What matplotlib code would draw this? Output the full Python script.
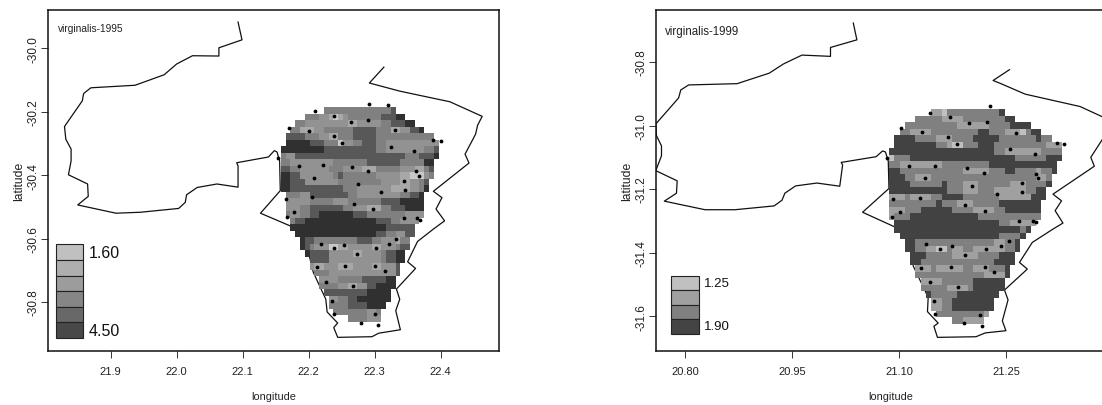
import numpy as np
import matplotlib
matplotlib.use('Agg')
import matplotlib.pyplot as plt
from matplotlib.colors import ListedColormap
from matplotlib.patches import Rectangle

plt.rcParams['font.family'] = ['Liberation Sans', 'DejaVu Sans']

# outline lon / lat, 1995 panel
lon_95 = [22.093, 22.099, 22.064, 22.064, 22.024, 22.000, 21.981, 21.937, 21.870, 21.859, 21.857, 21.830, 21.832,
          21.840, 21.840, 21.836, 21.865, 21.866, 21.850, 21.908, 21.945, 22.003, 22.013, 22.015, 22.031, 22.061,
          22.093, 22.093, 22.091, 22.139, 22.148, 22.152, 22.156, 22.157, 22.127, 22.172, 22.190, 22.207, 22.226,
          22.228, 22.244, 22.238, 22.244, 22.296, 22.306, 22.339, 22.332, 22.338, 22.333, 22.362, 22.350, 22.365,
          22.389, 22.406, 22.393, 22.402, 22.389, 22.443, 22.437, 22.453, 22.456, 22.463, 22.414, 22.339, 22.292,
          22.314]
lat_95 = [-29.918, -29.974, -29.999, -30.025, -30.024, -30.050, -30.084, -30.117, -30.125, -30.143, -30.166, -30.247,
          -30.287, -30.318, -30.355, -30.399, -30.428, -30.467, -30.494, -30.520, -30.517, -30.505, -30.486, -30.462,
          -30.439, -30.428, -30.438, -30.371, -30.361, -30.343, -30.323, -30.327, -30.355, -30.449, -30.520, -30.560,
          -30.560, -30.706, -30.791, -30.831, -30.866, -30.880, -30.911, -30.909, -30.898, -30.887, -30.827, -30.791,
          -30.759, -30.694, -30.673, -30.609, -30.570, -30.544, -30.507, -30.471, -30.451, -30.362, -30.334, -30.271,
          -30.243, -30.215, -30.169, -30.136, -30.110, -30.060]

# outline lon / lat, 1999 panel
lon_99 = [21.036, 21.041, 21.004, 21.004, 20.964, 20.938, 20.918, 20.873, 20.805, 20.794, 20.791, 20.759, 20.760,
          20.767, 20.767, 20.759, 20.789, 20.788, 20.771, 20.828, 20.870, 20.925, 20.936, 20.940, 20.955, 20.985,
          21.017, 21.021, 21.019, 21.068, 21.077, 21.081, 21.085, 21.086, 21.049, 21.094, 21.118, 21.120, 21.141,
          21.140, 21.155, 21.149, 21.154, 21.208, 21.221, 21.250, 21.245, 21.253, 21.248, 21.280, 21.269, 21.287,
          21.316, 21.330, 21.319, 21.328, 21.316, 21.374, 21.369, 21.384, 21.403, 21.384, 21.354, 21.277, 21.242,
          21.232, 21.255]
lat_99 = [-30.677, -30.730, -30.754, -30.782, -30.778, -30.806, -30.835, -30.868, -30.872, -30.888, -30.913, -30.995,
          -31.032, -31.064, -31.095, -31.142, -31.174, -31.213, -31.238, -31.265, -31.265, -31.253, -31.235, -31.213,
          -31.190, -31.181, -31.191, -31.124, -31.116, -31.098, -31.080, -31.083, -31.111, -31.198, -31.273, -31.319,
          -31.357, -31.442, -31.541, -31.586, -31.622, -31.632, -31.667, -31.665, -31.653, -31.646, -31.615, -31.549,
          -31.518, -31.452, -31.431, -31.368, -31.326, -31.307, -31.268, -31.237, -31.216, -31.128, -31.100, -31.048,
          -30.980, -30.971, -30.940, -30.901, -30.867, -30.858, -30.824]

# sample points
pts_lon_95 = [22.292, 22.320, 22.209, 22.238, 22.264, 22.290, 22.170, 22.201, 22.331, 22.238, 22.250, 22.389, 22.400,
              22.325, 22.359, 22.154, 22.186, 22.222, 22.266, 22.290, 22.363, 22.367, 22.208, 22.344, 22.275, 22.346,
              22.310, 22.166, 22.205, 22.268, 22.297, 22.178, 22.167, 22.345, 22.364, 22.368, 22.218, 22.254, 22.238,
              22.273, 22.302, 22.322, 22.333, 22.213, 22.255, 22.301, 22.316, 22.227, 22.267, 22.235, 22.238, 22.301,
              22.280, 22.305]
pts_lat_95 = [-30.176, -30.178, -30.199, -30.214, -30.233, -30.228, -30.251, -30.261, -30.259, -30.277, -30.298,
              -30.291, -30.293, -30.310, -30.323, -30.347, -30.370, -30.368, -30.373, -30.387, -30.387, -30.402,
              -30.409, -30.417, -30.429, -30.448, -30.453, -30.474, -30.470, -30.492, -30.508, -30.515, -30.533,
              -30.536, -30.536, -30.542, -30.617, -30.621, -30.630, -30.649, -30.630, -30.618, -30.600, -30.691,
              -30.687, -30.686, -30.702, -30.736, -30.749, -30.798, -30.837, -30.839, -30.865, -30.872]
pts_lon_99 = [21.228, 21.144, 21.172, 21.198, 21.224, 21.103, 21.133, 21.264, 21.169, 21.181, 21.322, 21.332, 21.256,
              21.291, 21.083, 21.114, 21.151, 21.195, 21.219, 21.292, 21.295, 21.136, 21.272, 21.202, 21.273, 21.237,
              21.091, 21.130, 21.193, 21.221, 21.101, 21.090, 21.268, 21.288, 21.292, 21.138, 21.174, 21.157, 21.192,
              21.222, 21.243, 21.255, 21.131, 21.173, 21.220, 21.233, 21.143, 21.183, 21.149, 21.151, 21.214, 21.191,
              21.216]
pts_lat_99 = [-30.939, -30.960, -30.974, -30.993, -30.990, -31.008, -31.020, -31.023, -31.037, -31.058, -31.054,
              -31.058, -31.073, -31.088, -31.103, -31.126, -31.128, -31.133, -31.149, -31.152, -31.165, -31.166,
              -31.180, -31.190, -31.210, -31.214, -31.230, -31.227, -31.251, -31.268, -31.272, -31.288, -31.300,
              -31.302, -31.304, -31.374, -31.378, -31.388, -31.407, -31.390, -31.378, -31.362, -31.448, -31.444,
              -31.444, -31.462, -31.492, -31.507, -31.554, -31.593, -31.597, -31.622, -31.630]

# grid rows, north to south: first column, then (end column, class)
rows_95 = [
    [9, (23, 4), (24, 5)],
    [5, (8, 4), (10, 3), (11, 2), (12, 1), (13, 2), (14, 3), (21, 4), (24, 5), (26, 6)],
    [3, (5, 4), (14, 3), (16, 2), (21, 3), (23, 4), (26, 5), (28, 6)],
    [2, (4, 4), (7, 2), (9, 3), (15, 4), (20, 5), (23, 4), (25, 2), (27, 3), (29, 5), (30, 6)],
    [1, (5, 5), (8, 4), (10, 3), (12, 2), (15, 4), (20, 5), (32, 4)],
    [1, (6, 6), (9, 5), (12, 4), (13, 1), (15, 3), (17, 4), (20, 5), (22, 4), (33, 3)],
    [0, (9, 6), (20, 5), (22, 4), (30, 3), (32, 4), (33, 5)],
    [0, (1, 4), (3, 3), (26, 5), (29, 4), (32, 5), (33, 6)],
    [0, (2, 4), (11, 3), (18, 4), (25, 5), (30, 4), (32, 6)],
    [0, (2, 5), (4, 4), (10, 3), (13, 4), (17, 3), (20, 2), (25, 4), (28, 3), (30, 2), (31, 4), (32, 5)],
    [0, (2, 6), (4, 5), (11, 3), (12, 4), (13, 5), (20, 4), (25, 3), (27, 2), (30, 1), (31, 3), (32, 4)],
    [0, (2, 6), (5, 5), (12, 3), (21, 4), (25, 3), (27, 2), (29, 3), (30, 4), (31, 5)],
    [0, (2, 6), (13, 5), (16, 4), (23, 3), (27, 2), (29, 3), (30, 4), (31, 6)],
    [1, (4, 4), (6, 3), (14, 5), (16, 4), (25, 3), (27, 4), (29, 5), (30, 6)],
    [1, (6, 3), (11, 4), (14, 3), (21, 4), (25, 5), (30, 6)],
    [1, (4, 3), (6, 4), (13, 5), (15, 4), (18, 3), (21, 2), (23, 4), (26, 5), (30, 6)],
    [1, (2, 4), (4, 3), (6, 4), (8, 5), (15, 6), (18, 5), (26, 4), (30, 3)],
    [2, (3, 4), (5, 5), (20, 6), (23, 5), (25, 4), (29, 3)],
    [2, (22, 6), (28, 5)],
    [3, (20, 6), (22, 5), (24, 4), (26, 3), (28, 5)],
    [4, (5, 6), (7, 5), (16, 4), (19, 5), (21, 4), (24, 3), (25, 2), (27, 4)],
    [4, (5, 6), (6, 5), (7, 4), (10, 3), (12, 1), (14, 2), (19, 3), (21, 2), (24, 3), (25, 4), (27, 5)],
    [5, (6, 6), (10, 5), (15, 3), (17, 2), (21, 3), (22, 4), (24, 5), (26, 6)],
    [6, (10, 5), (21, 3), (22, 4), (24, 5), (26, 6)],
    [6, (7, 3), (9, 2), (12, 3), (15, 2), (19, 3), (21, 2), (24, 3), (25, 5)],
    [7, (10, 4), (24, 3), (25, 5)],
    [8, (12, 3), (17, 4), (22, 5), (24, 6)],
    [8, (12, 4), (14, 3), (16, 2), (18, 3), (20, 5), (24, 6)],
    [9, (18, 5), (23, 6)],
    [10, (12, 3), (14, 4), (16, 5), (23, 6)],
    [10, (14, 4), (18, 5), (22, 6)],
    [11, (18, 4), (20, 3), (21, 4)],
    [14, (18, 4), (21, 3)],
]
rows_99 = [
    [8, (10, 2), (11, 1), (21, 3), (22, 4)],
    [5, (10, 3), (14, 2), (22, 3), (24, 4)],
    [3, (13, 3), (19, 2), (23, 3), (27, 4)],
    [2, (4, 3), (8, 2), (17, 3), (19, 4), (22, 3), (25, 2), (26, 1), (27, 3), (29, 4)],
    [1, (5, 4), (9, 3), (12, 2), (16, 3), (21, 4), (28, 3), (29, 4), (31, 3)],
    [1, (9, 4), (11, 3), (12, 2), (14, 1), (17, 3), (20, 4), (30, 3), (33, 2)],
    [0, (20, 4), (22, 3), (29, 2), (33, 3)],
    [0, (1, 1), (4, 3), (24, 4), (30, 3), (33, 4)],
    [0, (2, 3), (10, 2), (19, 3), (32, 4)],
    [0, (2, 4), (14, 3), (19, 2), (22, 3), (24, 4), (28, 3), (29, 2), (31, 3), (32, 4)],
    [0, (3, 4), (5, 3), (8, 2), (28, 3), (30, 2), (31, 3)],
    [0, (4, 4), (10, 3), (11, 4), (14, 3), (17, 2), (23, 3), (26, 2), (30, 3), (31, 4)],
    [0, (11, 4), (14, 3), (17, 2), (20, 3), (26, 2), (28, 3), (30, 4)],
    [0, (3, 2), (4, 3), (8, 2), (10, 3), (14, 4), (21, 3), (27, 2), (30, 4)],
    [0, (9, 3), (10, 4), (13, 3), (16, 2), (21, 3), (29, 4)],
    [0, (3, 2), (6, 3), (12, 4), (16, 3), (20, 2), (22, 3), (29, 4)],
    [0, (1, 2), (4, 3), (17, 4), (29, 3)],
    [1, (21, 4), (23, 3), (28, 2)],
    [1, (25, 4), (26, 3), (27, 4)],
    [2, (21, 4), (25, 3), (26, 4)],
    [3, (5, 4), (20, 3), (22, 2), (24, 3), (25, 4)],
    [3, (5, 4), (7, 3), (9, 2), (11, 1), (12, 3), (14, 2), (16, 3), (22, 2), (24, 3), (25, 4)],
    [4, (7, 4), (12, 3), (17, 2), (21, 3), (24, 4)],
    [4, (6, 4), (20, 3), (24, 4)],
    [5, (8, 2), (9, 3), (14, 2), (16, 3), (19, 2), (22, 3), (23, 4)],
    [5, (18, 3), (22, 2), (23, 4)],
    [6, (10, 2), (16, 3), (22, 4)],
    [6, (11, 3), (15, 2), (16, 3), (22, 4)],
    [7, (8, 4), (13, 3), (21, 4)],
    [8, (10, 2), (12, 3), (20, 4)],
    [8, (10, 2), (12, 3), (20, 4)],
    [9, (18, 3), (19, 2)],
    [12, (14, 3), (18, 2)],
]

xticks_95 = [21.9, 22.0, 22.1, 22.2, 22.3, 22.4]
yticks_95 = [-30.0, -30.2, -30.4, -30.6, -30.8]
xticks_99 = [20.80, 20.95, 21.10, 21.25]
yticks_99 = [-30.8, -31.0, -31.2, -31.4, -31.6]

colors_95 = ['#c8c8c8', '#a8a8a8', '#929292', '#808080', '#585858', '#303030']
colors_99 = ['#c0c0c0', '#a0a0a0', '#808080', '#424242']
legend_95 = ['#c0c0c0', '#aeaeae', '#9c9c9c', '#868686', '#686868', '#484848']
legend_99 = ['#c0c0c0', '#a0a0a0', '#808080', '#444444']


def make_grid(rows, ncols):
    grid = np.full((len(rows), ncols), np.nan)
    for j, row in enumerate(rows):
        start = row[0]
        for end, level in row[1:]:
            grid[j, start:end] = level
            start = end
    return np.ma.masked_invalid(grid)


def draw_panel(ax, lon, lat, px, py, rows, x0, dx, y0, dy, colors, legend_colors, legend_box, legend_labels, lab_size):
    ax.plot(lon, lat, color='#111111', lw=0.9, zorder=1)
    grid = make_grid(rows, 33)
    xe = x0 + dx * np.arange(grid.shape[1] + 1)
    ye = y0 - dy * np.arange(grid.shape[0] + 1)
    ax.pcolormesh(xe, ye, grid, cmap=ListedColormap(colors), vmin=0.5, vmax=len(colors) + 0.5,
                  antialiased=False, zorder=2)
    ax.scatter(px, py, s=7.5, color='black', linewidths=0, zorder=3)

    # legend boxes
    lx, lw_box, ybot, ytop = legend_box
    h = (ytop - ybot) / len(legend_colors)
    for i, c in enumerate(legend_colors):
        ax.add_patch(Rectangle((lx, ytop - (i + 1) * h), lw_box, h, transform=ax.transAxes, facecolor=c,
                               edgecolor='#222222', lw=0.8, zorder=4))
    ax.text(lx + lw_box + 0.012, ytop - h / 2, legend_labels[0], transform=ax.transAxes, ha='left', va='center',
            fontsize=lab_size, color='#111111')
    ax.text(lx + lw_box + 0.012, ybot + h / 2, legend_labels[1], transform=ax.transAxes, ha='left', va='center',
            fontsize=lab_size, color='#111111')

    for s in ax.spines.values():
        s.set_linewidth(1.1)
        s.set_color('#111111')
    ax.tick_params(axis='x', length=5, width=0.7, color='#333333', labelsize=8, pad=6, labelcolor='#222222')
    ax.tick_params(axis='y', length=5, width=0.7, color='#333333', labelsize=8.5, pad=1, labelcolor='#222222')
    for t in ax.get_yticklabels():
        t.set_rotation(90)
        t.set_va('center')


fig = plt.figure(figsize=(11.02, 4.06), dpi=100)

# left panel
ax1 = fig.add_axes([48 / 1102, 54 / 406, 450.7 / 1102, 341 / 406])
ax1.set_xlim(21.805, 22.488)
ax1.set_ylim(-30.954, -29.880)
ax1.set_xticks(xticks_95)
ax1.set_xticklabels(['%.1f' % v for v in xticks_95])
ax1.set_yticks(yticks_95)
ax1.set_yticklabels(['%.1f' % v for v in yticks_95])
draw_panel(ax1, lon_95, lat_95, pts_lon_95, pts_lat_95, rows_95, 22.1579, 0.00724, -30.1868, 0.02047,
           colors_95, legend_95, (0.0171, 0.0606, 0.0381, 0.3129), ['1.60', '4.50'], 11.5)
ax1.text(0.022, 0.948, 'virginalis-1995', transform=ax1.transAxes, ha='left', va='center', fontsize=7.3,
         color='#222222')
ax1.set_xlabel('longitude', fontsize=7.8, labelpad=10.5, color='#222222')
ax1.set_ylabel('latitude', fontsize=8.7, labelpad=2, color='#222222')

# right panel, runs off the edge of the picture
ax2 = fig.add_axes([656 / 1102, 54.3 / 406, 469 / 1102, 340.7 / 406])
ax2.set_xlim(20.7593, 21.417)
ax2.set_ylim(-31.709, -30.636)
ax2.set_xticks(xticks_99)
ax2.set_xticklabels(['%.2f' % v for v in xticks_99])
ax2.set_yticks(yticks_99)
ax2.set_yticklabels(['%.1f' % v for v in yticks_99])
draw_panel(ax2, lon_99, lat_99, pts_lon_99, pts_lat_99, rows_99, 21.0864, 0.00735, -30.948, 0.02047,
           colors_99, legend_99, (0.0313, 0.0597, 0.0499, 0.2201), ['1.25', '1.90'], 9.5)
ax2.text(0.019, 0.938, 'virginalis-1999', transform=ax2.transAxes, ha='left', va='center', fontsize=8.3,
         color='#222222')
ax2.set_xlabel('longitude', fontsize=7.8, labelpad=10.5, color='#222222')
ax2.set_ylabel('latitude', fontsize=8.7, labelpad=2, color='#222222')

plt.savefig('out.png', dpi=100)
